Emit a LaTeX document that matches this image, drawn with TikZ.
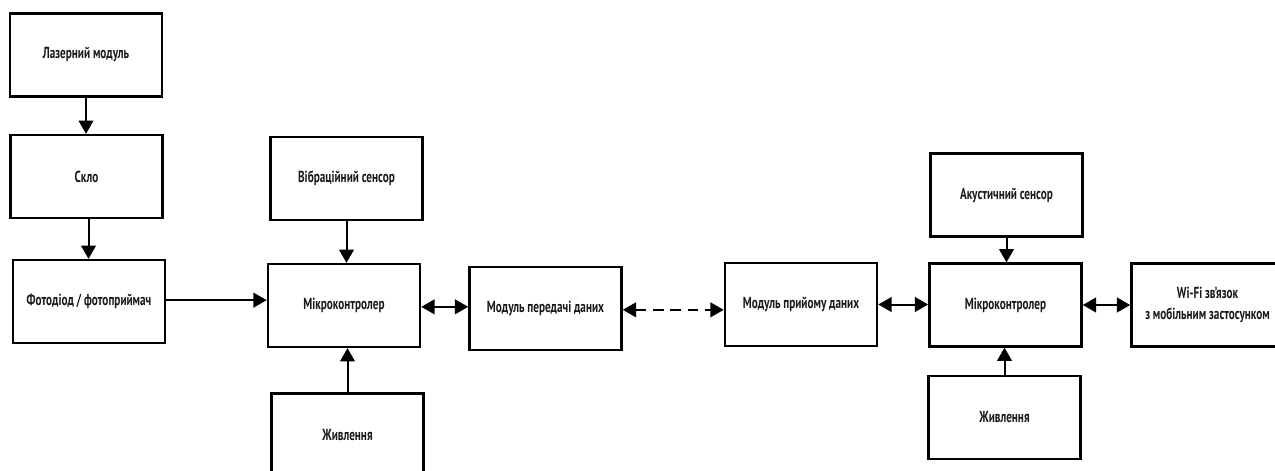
\documentclass[tikz,border=0pt]{standalone}
\usepackage{fontspec}
\setmainfont{PT Sans}[FakeStretch=0.7]
\usetikzlibrary{arrows.meta}
\tikzset{
  blk/.style={draw=black, line width=1.9pt, fill=white, minimum width=114pt, minimum height=62pt,
    inner sep=0pt, font=\bfseries\fontsize{12pt}{16pt}\selectfont, text=black!90, align=center},
  arr/.style={line width=1.5pt, -{Triangle[length=10pt,width=11pt]}},
  darr/.style={line width=1.5pt, {Triangle[length=10pt,width=11pt]}-{Triangle[length=10pt,width=11pt]}},
  ddarr/.style={darr, dash pattern=on 8pt off 5pt}
}
\begin{document}
\begin{tikzpicture}[x=0.75pt,y=-0.75pt]
\useasboundingbox (0,0) rectangle (1275,471);
\clip (0,0) rectangle (1275,471);
\node[blk] (laser) at (86,55) {Лазерний модуль};
\node[blk] (glass) at (86.5,176.5) {Скло};
\node[blk] (photo) at (89,301.5) {Фотодіод / фотоприймач};
\node[blk] (vib) at (346.5,178.5) {Вібраційний сенсор};
\node[blk] (mc1) at (344,305.5) {Мікроконтролер};
\node[blk] (pow1) at (347.5,435) {Живлення};
\node[blk] (tx) at (545.5,308.5) {Модуль передачі даних};
\node[blk] (rx) at (801,304.5) {Модуль прийому даних};
\node[blk] (ac) at (1006.5,195) {Акустичний сенсор};
\node[blk] (mc2) at (1005.5,305) {Мікроконтролер};
\node[blk] (pow2) at (1004.5,417.5) {Живлення};
\node[blk] (wifi) at (1207.5,305) {Wi-Fi зв'язок\\з мобільним застосунком};

\draw[arr] (laser.south) -- (laser.south |- glass.north);
\draw[arr] ([xshift=1.5pt]glass.south) -- ([xshift=1.5pt]glass.south |- photo.north);
\draw[arr] ([yshift=1pt]photo.east) -- ([yshift=1pt]photo.east -| mc1.west);
\draw[arr] (vib.south) -- (vib.south |- mc1.north);
\draw[arr] (pow1.north) -- (pow1.north |- mc1.south);
\draw[darr] ([yshift=-1pt]mc1.east) -- ([yshift=-1pt]mc1.east -| tx.west);
\draw[ddarr] ([yshift=-1pt]tx.east) -- ([yshift=-1pt]tx.east -| rx.west);
\draw[darr] (rx.east) -- (rx.east -| mc2.west);
\draw[darr] (mc2.east) -- (mc2.east -| wifi.west);
\draw[arr] (ac.south) -- (ac.south |- mc2.north);
\draw[arr] (pow2.north) -- (pow2.north |- mc2.south);
\end{tikzpicture}
\end{document}
